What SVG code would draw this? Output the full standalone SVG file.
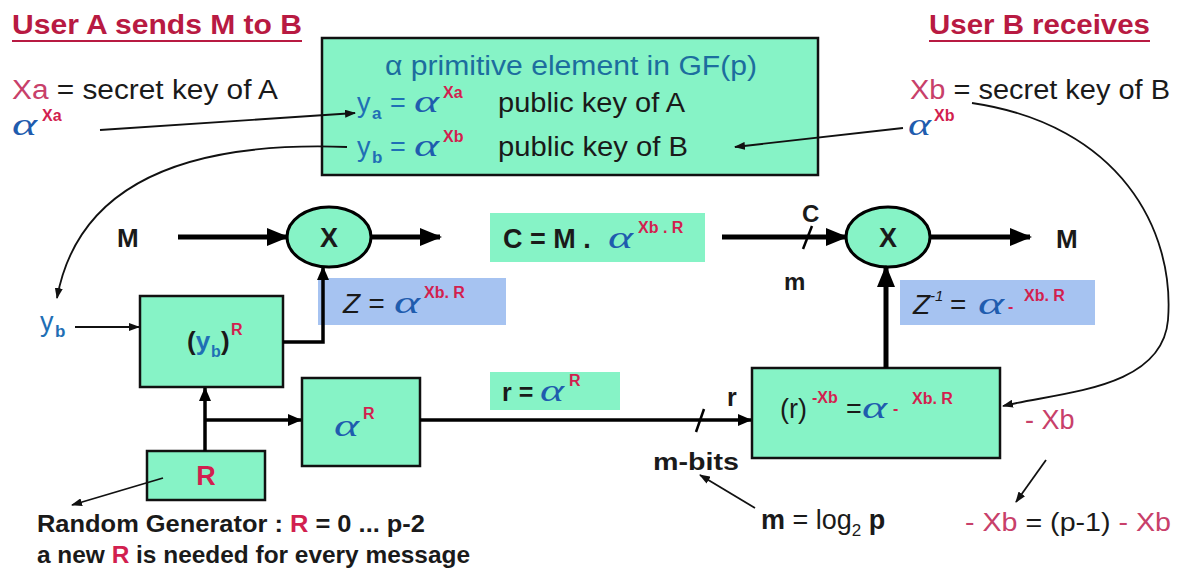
<svg xmlns="http://www.w3.org/2000/svg" width="1185" height="574" viewBox="0 0 1185 574">
<style>
text{font-family:"Liberation Sans",Arial,sans-serif;fill:#1a1a1a}
.title{font-size:27px;font-weight:bold;fill:#b81a42}
.reg{font-size:27px}
.b{font-weight:bold}
.blue{fill:#1f6fb5}
.teal{fill:#1c6d9e}
.al{font-family:"Liberation Serif",serif;font-style:italic;fill:#1f5cae;font-size:32px}
.sup{font-size:16px;font-weight:bold;fill:#d21f4f}
.pink{fill:#c8406a}
.mint{fill:#86f3c6}
.box{fill:#86f3c6;stroke:#111;stroke-width:2.5}
.lb{fill:#a6c3f1}
.thick{stroke:#000;stroke-width:5;fill:none}
.med{stroke:#000;stroke-width:3.5;fill:none}
.thin{stroke:#111;stroke-width:1.8;fill:none}
</style>
<defs>
<marker id="big" markerUnits="userSpaceOnUse" markerWidth="22" markerHeight="18" refX="20" refY="9" orient="auto"><path d="M0,0 L22,9 L0,18 Z" fill="#000"/></marker>
<marker id="mid" markerUnits="userSpaceOnUse" markerWidth="14" markerHeight="12" refX="13" refY="6" orient="auto"><path d="M0,0 L14,6 L0,12 Z" fill="#000"/></marker>
<marker id="sm" markerUnits="userSpaceOnUse" markerWidth="11" markerHeight="8" refX="10" refY="4" orient="auto"><path d="M0,0 L11,4 L0,8 Z" fill="#111"/></marker>
</defs>

<g id="titles">
<text x="12" y="34" class="title" textLength="290" lengthAdjust="spacingAndGlyphs">User A sends M  to B</text>
<line x1="12" y1="41" x2="302" y2="41" stroke="#b81a42" stroke-width="2"/>
<text x="929" y="34" class="title" textLength="221" lengthAdjust="spacingAndGlyphs">User B receives</text>
<line x1="929" y1="41" x2="1150" y2="41" stroke="#b81a42" stroke-width="2"/>
</g>

<g id="keyA">
<text x="12" y="99" class="reg" textLength="266" lengthAdjust="spacingAndGlyphs"><tspan class="pink">Xa</tspan> = secret key of A</text>
<text x="12" y="135" class="al" textLength="25" lengthAdjust="spacingAndGlyphs">α</text>
<text x="42" y="121" class="sup">Xa</text>
</g>

<g id="keyB">
<text x="910" y="99" class="reg" textLength="260" lengthAdjust="spacingAndGlyphs"><tspan class="pink">Xb</tspan> = secret key of B</text>
<text x="908" y="135" class="al" textLength="23" lengthAdjust="spacingAndGlyphs">α</text>
<text x="934" y="121" class="sup">Xb</text>
</g>

<g id="publicBox">
<rect x="322" y="38" width="496" height="137" class="box"/>
<text x="385" y="75" class="reg teal" textLength="372" lengthAdjust="spacingAndGlyphs">α  primitive element in GF(p)</text>
<text x="357" y="112" class="reg blue">y</text><text x="372" y="119" font-size="17" class="blue b">a</text>
<text x="390" y="112" class="reg blue">=</text>
<text x="414" y="112" class="al" textLength="25" lengthAdjust="spacingAndGlyphs">α</text><text x="443" y="98" class="sup">Xa</text>
<text x="498" y="112" class="reg" textLength="187" lengthAdjust="spacingAndGlyphs">public key of A</text>
<text x="357" y="156" class="reg blue">y</text><text x="372" y="163" font-size="17" class="blue b">b</text>
<text x="390" y="156" class="reg blue">=</text>
<text x="414" y="156" class="al" textLength="25" lengthAdjust="spacingAndGlyphs">α</text><text x="443" y="142" class="sup">Xb</text>
<text x="498" y="156" class="reg" textLength="190" lengthAdjust="spacingAndGlyphs">public key of B</text>
</g>

<g id="mulA">
<ellipse cx="329" cy="237" rx="42" ry="30" class="mint" stroke="#000" stroke-width="3"/>
<text x="329" y="247" font-size="27" class="b" text-anchor="middle">X</text>
</g>
<g id="mulB">
<ellipse cx="888" cy="237" rx="42" ry="30" class="mint" stroke="#000" stroke-width="3"/>
<text x="888" y="247" font-size="27" class="b" text-anchor="middle">X</text>
</g>

<g id="cipherLabel">
<rect x="490" y="213" width="215" height="49" class="mint"/>
<text x="503" y="248" font-size="27" class="b">C = M .</text>
<text x="608" y="248" class="al" textLength="25" lengthAdjust="spacingAndGlyphs">α</text>
<text x="638" y="233" class="sup">Xb . R</text>
</g>

<g id="zLabel">
<rect x="318" y="278" width="188" height="47" class="lb"/>
<text x="343" y="313" font-size="28" font-style="italic" fill="#1f4faa">Z =</text>
<text x="394" y="313" class="al" textLength="26" lengthAdjust="spacingAndGlyphs">α</text>
<text x="424" y="298" class="sup">Xb. R</text>
</g>

<g id="zinvLabel">
<rect x="900" y="280" width="195" height="45" class="lb"/>
<text x="913" y="314" font-size="28" font-style="italic" fill="#1f4faa">Z</text>
<text x="930" y="301" font-size="15" font-style="italic" fill="#1f4faa">-1</text>
<text x="950" y="314" font-size="28" fill="#1f4faa">=</text>
<text x="978" y="314" class="al" textLength="26" lengthAdjust="spacingAndGlyphs">α</text>
<text x="1008" y="312" class="sup">-</text>
<text x="1024" y="301" class="sup">Xb. R</text>
</g>

<g id="ybR">
<rect x="140" y="296" width="143" height="91" class="box"/>
<text x="187" y="350" font-size="26" class="b">(<tspan class="blue">y</tspan></text>
<text x="211" y="357" font-size="16" class="b blue">b</text>
<text x="221" y="350" font-size="26" class="b">)</text>
<text x="231" y="335" class="sup">R</text>
</g>

<g id="ybInput">
<text x="40" y="331" class="reg blue">y</text><text x="55" y="337" font-size="17" class="b blue">b</text>
</g>

<g id="alphaR">
<rect x="302" y="378" width="118" height="88" class="box"/>
<text x="334" y="436" class="al" textLength="25" lengthAdjust="spacingAndGlyphs">α</text>
<text x="363" y="419" class="sup">R</text>
</g>

<g id="Rgen">
<rect x="147" y="451" width="118" height="49" class="box"/>
<text x="206" y="485" font-size="27" class="b" text-anchor="middle" style="fill:#d21f4f">R</text>
</g>

<g id="rLabel">
<rect x="490" y="372" width="130" height="38" class="mint"/>
<text x="502" y="401" font-size="25" class="b">r =</text>
<text x="540" y="401" class="al" textLength="24" lengthAdjust="spacingAndGlyphs">α</text>
<text x="569" y="386" class="sup">R</text>
</g>

<g id="decBox">
<rect x="752" y="368" width="248" height="90" class="box"/>
<text x="780" y="418" font-size="27">(r)</text>
<text x="812" y="403" class="sup" font-weight="normal">-Xb</text>
<text x="846" y="418" font-size="27">=</text>
<text x="862" y="418" class="al" textLength="25" lengthAdjust="spacingAndGlyphs">α</text>
<text x="893" y="414" class="sup">-</text>
<text x="912" y="404" class="sup" font-weight="normal">Xb. R</text>
</g>

<g id="labels">
<text x="117" y="247" font-size="26" class="b">M</text>
<text x="1056" y="248" font-size="26" class="b">M</text>
<text x="802" y="222" font-size="24" class="b">C</text>
<text x="784" y="290" font-size="24" class="b">m</text>
<text x="727" y="406" font-size="25" class="b">r</text>
<text x="653" y="470" font-size="24" class="b" textLength="86" lengthAdjust="spacingAndGlyphs">m-bits</text>
<text x="761" y="529" font-size="27"><tspan class="b">m</tspan> = log<tspan dy="7" font-size="17">2</tspan><tspan dy="-7" class="b"> p</tspan></text>
<text x="1025" y="429" font-size="27" class="pink">- Xb</text>
<text x="965" y="531" font-size="26" textLength="206" lengthAdjust="spacingAndGlyphs"><tspan class="pink">- Xb</tspan> = (p-1) <tspan class="pink">- Xb</tspan></text>
<text x="37" y="532" font-size="24" class="b" textLength="388" lengthAdjust="spacingAndGlyphs">Random Generator : <tspan fill="#d21f4f">R</tspan> = 0 ... p-2</text>
<text x="37" y="563" font-size="24" class="b" textLength="433" lengthAdjust="spacingAndGlyphs">a new <tspan fill="#d21f4f">R</tspan> is needed for every message</text>
</g>

<g id="connectors">
<line x1="100" y1="130" x2="355" y2="113" class="thin" marker-end="url(#sm)"/>
<line x1="903" y1="128" x2="735" y2="147" class="thin" marker-end="url(#sm)"/>
<path d="M347,147 C160,140 75,200 57,298" class="thin" marker-end="url(#sm)"/>
<path d="M972,103 C1120,125 1175,230 1168,320 C1162,390 1060,392 1003,406" class="thin" marker-end="url(#sm)"/>
<line x1="75" y1="327" x2="139" y2="327" class="thin" stroke-width="2.5" marker-end="url(#sm)"/>
<line x1="178" y1="237" x2="287" y2="237" class="thick" marker-end="url(#big)"/>
<line x1="371" y1="237" x2="440" y2="237" class="thick" marker-end="url(#big)"/>
<line x1="722" y1="237" x2="846" y2="237" class="thick" marker-end="url(#big)"/>
<line x1="803" y1="249" x2="812" y2="226" stroke="#000" stroke-width="2.5"/>
<line x1="930" y1="237" x2="1030" y2="237" class="thick" marker-end="url(#big)"/>
<line x1="886" y1="368" x2="886" y2="267" class="thick" marker-end="url(#big)"/>
<polyline points="283,342 323,342 323,267" class="med" marker-end="url(#mid)"/>
<line x1="205" y1="451" x2="205" y2="388" class="med" marker-end="url(#mid)"/>
<line x1="205" y1="420" x2="301" y2="420" class="med" marker-end="url(#mid)"/>
<line x1="420" y1="420" x2="751" y2="420" class="med" marker-end="url(#mid)"/>
<line x1="696" y1="432" x2="704" y2="409" stroke="#000" stroke-width="2.5"/>
<line x1="163" y1="478" x2="72" y2="505" class="thin" marker-end="url(#sm)"/>
<line x1="755" y1="508" x2="700" y2="475" class="thin" marker-end="url(#sm)"/>
<line x1="1046" y1="460" x2="1016" y2="502" class="thin" marker-end="url(#sm)"/>
</g>
</svg>
